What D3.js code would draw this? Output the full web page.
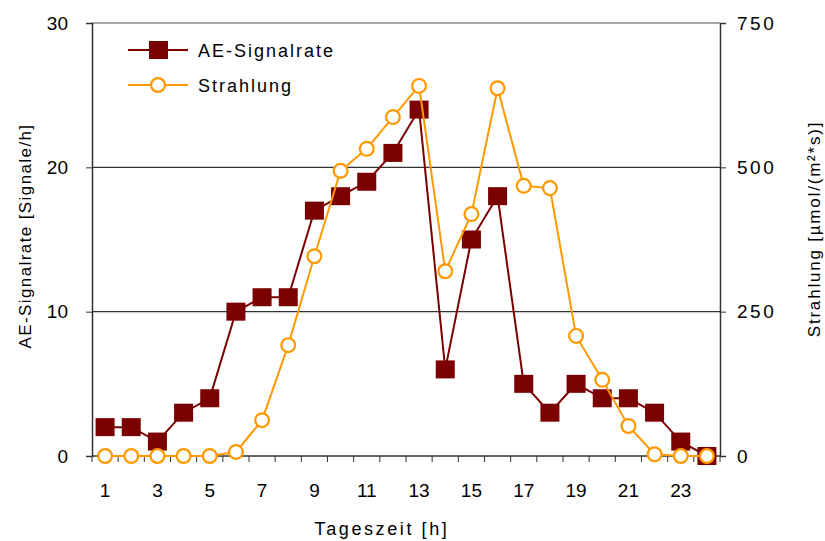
<!DOCTYPE html>
<html>
<head>
<meta charset="utf-8">
<script src="https://cdn.jsdelivr.net/npm/d3@7"></script>
<style>
  body { margin: 0; background: #fff; }
  svg text { font-family: "Liberation Sans", Arial, sans-serif; fill: #000; }
</style>
</head>
<body>
<svg id="chart" width="825" height="541"></svg>
<script>
// hours of day
const hours = d3.range(1, 25);
// AE signal rate [Signale/h]
const aeRate = [2, 2, 1, 3, 4, 10, 11, 11, 17, 18, 19, 21, 24, 6, 15, 18, 5, 3, 5, 4, 4, 3, 1, 0];
// radiation [µmol/(m²*s)]
const strahlung = [0, 0, 0, 0, 0, 7, 62, 192, 346, 494, 532, 587, 641, 320, 419, 637, 468, 464, 208, 132, 52, 3, 0, 0];
const leftTicks = [0, 10, 20, 30];
const rightTicks = [0, 250, 500, 750];
const xLabels = hours.filter(h => h % 2 === 1);

const DARKRED = '#7b0000';
const ORANGE  = '#ff9900';

const margin = { top: 23, right: 105, bottom: 85, left: 92 };
const W = 825, H = 541;

const svg = d3.select('#chart');
const g = svg.append('g');

const x = d3.scaleBand()
  .domain(hours)
  .range([margin.left, W - margin.right]);

const yL = d3.scaleLinear().domain([0, 30]).range([H - margin.bottom, margin.top]);
const yR = d3.scaleLinear().domain([0, 750]).range([H - margin.bottom, margin.top]);

const x0 = margin.left, x1 = W - margin.right;
const yB = H - margin.bottom, yT = margin.top;

// gridlines
g.selectAll('.grid')
  .data([10, 20])
  .enter().append('line')
    .attr('x1', x0).attr('x2', x1)
    .attr('y1', d => yL(d)).attr('y2', d => yL(d))
    .attr('stroke', '#333').attr('stroke-width', 1.2);

// top border
g.append('line')
  .attr('x1', x0).attr('x2', x1).attr('y1', yT).attr('y2', yT)
  .attr('stroke', '#888').attr('stroke-width', 1.5);

// left axis
const leftAxis = d3.axisLeft(yL).tickValues(leftTicks).tickSize(6).tickPadding(18);
g.append('g')
  .attr('transform', `translate(${x0},0)`)
  .call(leftAxis)
  .call(a => a.select('.domain').attr('stroke', '#333').attr('stroke-width', 1.5))
  .call(a => a.selectAll('.tick line').attr('stroke', '#333'))
  .call(a => a.selectAll('text').attr('font-size', 19));

// right axis
const rightAxis = d3.axisRight(yR).tickValues(rightTicks).tickSize(6).tickPadding(11);
g.append('g')
  .attr('transform', `translate(${x1},0)`)
  .call(rightAxis)
  .call(a => a.select('.domain').attr('stroke', '#333').attr('stroke-width', 1.5))
  .call(a => a.selectAll('.tick line').attr('stroke', '#333'))
  .call(a => a.selectAll('text').attr('font-size', 19).attr('letter-spacing', 2.5));

// bottom axis: ticks on band boundaries, labels on odd hours
const xa = g.append('g').attr('transform', `translate(0,${yB})`);
xa.append('line')
  .attr('x1', x0).attr('x2', x1).attr('y1', 0).attr('y2', 0)
  .attr('stroke', '#333').attr('stroke-width', 1.5);
xa.selectAll('.xt')
  .data(hours.concat([25]))
  .enter().append('line')
    .attr('x1', d => d <= 24 ? x(d) : x1)
    .attr('x2', d => d <= 24 ? x(d) : x1)
    .attr('y1', 0).attr('y2', 6)
    .attr('stroke', '#333');
xa.selectAll('.xl')
  .data(xLabels)
  .enter().append('text')
    .attr('x', d => x(d) + x.bandwidth() / 2)
    .attr('y', 41)
    .attr('text-anchor', 'middle')
    .attr('font-size', 19)
    .text(d => d);

// axis titles
svg.append('text')
  .attr('transform', 'translate(31,236) rotate(-90)')
  .attr('text-anchor', 'middle')
  .attr('font-size', 17)
  .attr('letter-spacing', 1.4)
  .text('AE-Signalrate [Signale/h]');

svg.append('text')
  .attr('transform', 'translate(820,229) rotate(-90)')
  .attr('text-anchor', 'middle')
  .attr('font-size', 17)
  .attr('letter-spacing', 1.8)
  .text('Strahlung [µmol/(m²*s)]');

svg.append('text')
  .attr('x', 382).attr('y', 535)
  .attr('text-anchor', 'middle')
  .attr('font-size', 18)
  .attr('letter-spacing', 2.6)
  .text('Tageszeit [h]');

const cx = d => x(d) + x.bandwidth() / 2;

// AE signal rate line
g.append('path')
  .datum(aeRate)
  .attr('fill', 'none')
  .attr('stroke', DARKRED)
  .attr('stroke-width', 2)
  .attr('d', d3.line().x((d, i) => cx(hours[i])).y(d => yL(d)));

g.selectAll('.ae')
  .data(aeRate)
  .enter().append('rect')
    .attr('x', (d, i) => cx(hours[i]) - 9.5)
    .attr('y', d => yL(d) - 9)
    .attr('width', 19).attr('height', 18)
    .attr('fill', DARKRED);

// radiation line
g.append('path')
  .datum(strahlung)
  .attr('fill', 'none')
  .attr('stroke', ORANGE)
  .attr('stroke-width', 2)
  .attr('d', d3.line().x((d, i) => cx(hours[i])).y(d => yR(d)));

const hex = d3.symbol().type(d3.symbolCircle).size(150);
g.selectAll('.st')
  .data(strahlung)
  .enter().append('path')
    .attr('transform', (d, i) => `translate(${cx(hours[i])},${yR(d)})`)
    .attr('d', hex)
    .attr('fill', '#fff')
    .attr('stroke', ORANGE)
    .attr('stroke-width', 2.2);

// legend
const legend = svg.append('g').attr('transform', 'translate(128,50)');
const items = [
  { name: 'AE-Signalrate', color: DARKRED, kind: 'square' },
  { name: 'Strahlung', color: ORANGE, kind: 'circle' }
];
const li = legend.selectAll('.li')
  .data(items)
  .enter().append('g')
    .attr('transform', (d, i) => `translate(0,${i * 35})`);
li.append('line')
  .attr('x1', 0).attr('x2', 60)
  .attr('stroke', d => d.color).attr('stroke-width', 2);
li.filter(d => d.kind === 'square').append('rect')
  .attr('x', 21).attr('y', -9).attr('width', 19).attr('height', 18)
  .attr('fill', DARKRED);
li.filter(d => d.kind === 'circle').append('path')
  .attr('transform', 'translate(30,0)')
  .attr('d', hex)
  .attr('fill', '#fff').attr('stroke', ORANGE).attr('stroke-width', 2.2);
li.append('text')
  .attr('x', 70).attr('y', 7)
  .attr('font-size', 18)
  .attr('letter-spacing', 2)
  .text(d => d.name);
</script>
</body>
</html>
